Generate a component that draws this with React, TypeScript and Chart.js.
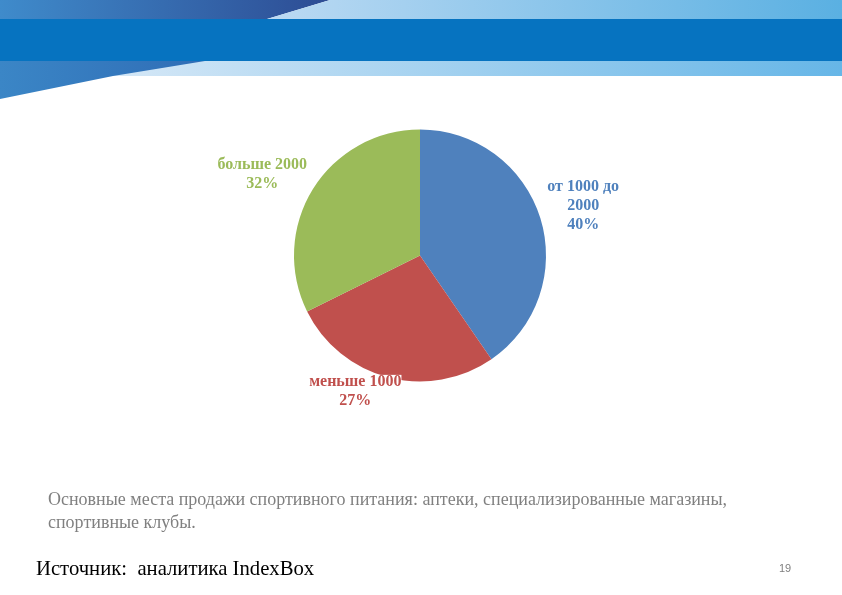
import React, { useEffect, useRef } from "react";
import { Chart, registerables } from "chart.js";

Chart.register(...registerables);

const categories = ["от 1000 до 2000", "меньше 1000", "больше 2000"];
const labelLines = [["от 1000 до", "2000"], ["меньше 1000"], ["больше 2000"]];
const shares = [40, 27, 32];
const colors = ["#4F81BD", "#C0504D", "#9BBB59"];
const labelColors = ["#4F81BD", "#C0504D", "#9BBB59"];

const caption =
  ["Основные места продажи спортивного питания: аптеки, специализированные магазины,", "спортивные клубы."];
const sourceText = "Источник:  аналитика IndexBox";
const pageNo = "19";

// best-fit style nudges for the outside labels (degrees, px)
const labelAngleNudge = [0.3, 11, -4.5];
const labelDistNudge = [2, -13, 3];

const labelPlugin = {
  id: "outerLabels",
  afterDatasetsDraw(chart: any) {
    const ctx = chart.ctx;
    const meta = chart.getDatasetMeta(0);
    ctx.save();
    ctx.font = "bold 16px 'Liberation Serif', 'Times New Roman', serif";
    ctx.textAlign = "center";
    ctx.textBaseline = "middle";
    const lh = 19;
    meta.data.forEach((arc: any, i: number) => {
      const { x, y, startAngle, endAngle, outerRadius } = arc.getProps(
        ["x", "y", "startAngle", "endAngle", "outerRadius"],
        true
      );
      const mid = (startAngle + endAngle) / 2 + (labelAngleNudge[i] * Math.PI) / 180;
      const dx = Math.cos(mid);
      const dy = Math.sin(mid);
      const lines = [...labelLines[i], shares[i] + "%"];
      const w = Math.max(...lines.map((l) => ctx.measureText(l).width));
      const h = lines.length * lh;
      const t =
        outerRadius + Math.abs(dx) * (w / 2) + Math.abs(dy) * (h / 2) + labelDistNudge[i];
      const cx = x + dx * t;
      const cy = y + dy * t;
      ctx.fillStyle = "#ffffff";
      ctx.fillRect(cx - w / 2, cy - h / 2 + 3, w, h - 6);
      ctx.fillStyle = labelColors[i];
      lines.forEach((l, k) => {
        ctx.fillText(l, cx, cy - h / 2 + lh / 2 + k * lh);
      });
    });
    ctx.restore();
  },
};

function Header() {
  return (
    <svg width={842} height={105} style={{ position: "absolute", left: 0, top: 0 }}>
      <defs>
        <linearGradient id="topL" x1="0" x2="1" y1="0" y2="0">
          <stop offset="0" stopColor="#3F8BCB" />
          <stop offset="1" stopColor="#2D4C94" />
        </linearGradient>
        <linearGradient id="topR" x1="0" x2="1" y1="0" y2="0">
          <stop offset="0" stopColor="#BCDAF3" />
          <stop offset="1" stopColor="#5AB0E2" />
        </linearGradient>
        <linearGradient id="lowR" x1="0" x2="1" y1="0" y2="0">
          <stop offset="0" stopColor="#E6EFF9" />
          <stop offset="1" stopColor="#66B6E7" />
        </linearGradient>
        <linearGradient id="wedge" x1="0" x2="1" y1="0" y2="0">
          <stop offset="0" stopColor="#3B86C6" />
          <stop offset="1" stopColor="#2F6DB6" />
        </linearGradient>
      </defs>
      <polygon points="0,0 330,0 267,19 0,19" fill="url(#topL)" />
      <polygon points="330,0 842,0 842,19 267,19" fill="url(#topR)" />
      <rect x={0} y={61} width={842} height={15} fill="url(#lowR)" />
      <polygon points="0,61 205,61 113,76 0,99" fill="url(#wedge)" />
      <rect x={0} y={19} width={842} height={42} fill="#0673C0" />
    </svg>
  );
}

export default function App() {
  const ref = useRef<HTMLCanvasElement | null>(null);
  useEffect(() => {
    if (!ref.current) return;
    const chart = new Chart(ref.current, {
      type: "pie",
      data: {
        labels: categories,
        datasets: [
          {
            data: shares,
            backgroundColor: colors,
            borderWidth: 0,
          },
        ],
      },
      options: {
        animation: false,
        responsive: false,
        layout: { padding: { left: 294, right: 296, top: 129, bottom: 213 } },
        plugins: {
          legend: { display: false },
          tooltip: { enabled: false },
          title: { display: false },
        },
      },
      plugins: [labelPlugin],
    });
    return () => chart.destroy();
  }, []);

  return (
    <div
      style={{
        position: "absolute",
        left: 0,
        top: 0,
        width: 842,
        height: 595,
        background: "#ffffff",
        overflow: "hidden",
      }}
    >
      <Header />
      <canvas
        ref={ref}
        width={842}
        height={595}
        style={{ position: "absolute", left: 0, top: 0, width: 842, height: 595 }}
      />
      <div
        style={{
          position: "absolute",
          left: 48,
          top: 488,
          fontFamily: "'Liberation Serif', 'Times New Roman', serif",
          fontSize: 18,
          lineHeight: "23px",
          color: "#808080",
          whiteSpace: "nowrap",
        }}
      >
        {caption[0]}
        <br />
        {caption[1]}
      </div>
      <div
        style={{
          position: "absolute",
          left: 36,
          top: 555,
          fontFamily: "'Liberation Serif', 'Times New Roman', serif",
          fontSize: 20.7,
          lineHeight: "26px",
          color: "#000000",
          whiteSpace: "pre",
        }}
      >
        {sourceText}
      </div>
      <div
        style={{
          position: "absolute",
          left: 779,
          top: 561,
          fontFamily: "'Liberation Sans', Arial, sans-serif",
          fontSize: 11,
          lineHeight: "14px",
          color: "#7f7f7f",
        }}
      >
        {pageNo}
      </div>
    </div>
  );
}
